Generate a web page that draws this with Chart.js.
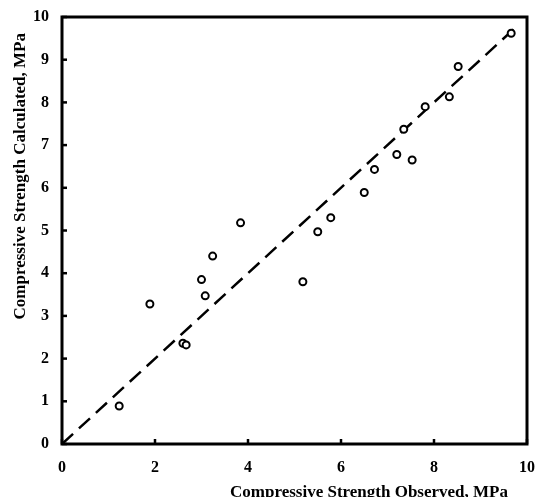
<!DOCTYPE html>
<html>
<head>
<meta charset="utf-8">
<script src="https://cdn.jsdelivr.net/npm/chart.js@4"></script>
<style>
  html, body { margin: 0; padding: 0; background: #fff; }
  #wrap { width: 542px; height: 497px; }
</style>
</head>
<body>
<div id="wrap"><canvas id="myChart" width="542" height="497"></canvas></div>
<script>
// observed vs calculated compressive strength (MPa)
const observed = [1.23, 1.89, 2.60, 2.67, 3.00, 3.08, 3.24, 3.84, 5.18, 5.50, 5.78, 6.50, 6.72, 7.20, 7.53, 7.35, 7.81, 8.33, 8.52, 9.66];
const calculated = [0.89, 3.28, 2.36, 2.32, 3.85, 3.47, 4.40, 5.18, 3.80, 4.97, 5.30, 5.89, 6.43, 6.78, 6.65, 7.37, 7.90, 8.13, 8.84, 9.62];
const lineX = [0, 9.8];
const lineY = [0, 9.8];

const xTitle = 'Compressive Strength Observed, MPa';
const yTitle = 'Compressive Strength Calculated, MPa';

const fontFam = '"Liberation Serif", "Times New Roman", serif';

// frame, inward ticks and the axis titles
const frame = {
  id: 'frame',
  afterDraw(chart) {
    const { ctx, chartArea: a, scales } = chart;
    ctx.save();
    ctx.strokeStyle = '#000';
    ctx.lineWidth = 3;
    ctx.strokeRect(a.left, a.top, a.right - a.left, a.bottom - a.top);
    ctx.lineWidth = 2.5;
    scales.x.ticks.forEach(t => {
      const px = scales.x.getPixelForValue(t.value);
      ctx.beginPath();
      ctx.moveTo(px, a.bottom);
      ctx.lineTo(px, a.bottom - 5);
      ctx.stroke();
    });
    scales.y.ticks.forEach(t => {
      const py = scales.y.getPixelForValue(t.value);
      ctx.beginPath();
      ctx.moveTo(a.left, py);
      ctx.lineTo(a.left + 5, py);
      ctx.stroke();
    });

    ctx.fillStyle = '#000';
    ctx.font = 'bold 17px ' + fontFam;
    ctx.textBaseline = 'middle';
    ctx.textAlign = 'right';
    ctx.fillText(xTitle, a.right - 19, 493);

    ctx.translate(21, a.top + 16);
    ctx.rotate(-Math.PI / 2);
    ctx.fillText(yTitle, 0, 0);
    ctx.restore();
  }
};

const ctx = document.getElementById('myChart').getContext('2d');
new Chart(ctx, {
  type: 'scatter',
  data: {
    datasets: [
      {
        label: 'Calculated',
        data: observed.map((x, i) => ({ x: x, y: calculated[i] })),
        pointStyle: 'circle',
        pointRadius: 3.5,
        pointBorderWidth: 2,
        pointBorderColor: '#000',
        pointBackgroundColor: '#fff',
        showLine: false,
        order: 1,
      },
      {
        label: 'Line',
        data: lineX.map((x, i) => ({ x: x, y: lineY[i] })),
        showLine: true,
        borderColor: '#000',
        borderWidth: 2.5,
        borderDash: [15, 8],
        pointRadius: 0,
        fill: false,
        order: 2,
      },
    ],
  },
  options: {
    responsive: false,
    animation: false,
    layout: { padding: { top: 17, right: 15, left: 0, bottom: 0 } },
    plugins: { legend: { display: false }, tooltip: { enabled: false } },
    scales: {
      x: {
        type: 'linear',
        min: 0,
        max: 10,
        afterFit: s => {
          s.height = 53;
          s.paddingLeft = 0;
          s.paddingRight = 0;
        },
        grid: { display: false, drawTicks: false },
        border: { display: false },
        ticks: {
          stepSize: 2,
          color: '#000',
          padding: 14,
          font: { family: fontFam, size: 16, weight: 'bold' },
        },
      },
      y: {
        type: 'linear',
        min: 0,
        max: 10,
        afterFit: s => {
          s.width = 62;
          s.paddingTop = 0;
          s.paddingBottom = 0;
        },
        grid: { display: false, drawTicks: false },
        border: { display: false },
        ticks: {
          stepSize: 1,
          color: '#000',
          padding: 13,
          font: { family: fontFam, size: 16, weight: 'bold' },
        },
      },
    },
  },
  plugins: [frame],
});
</script>
</body>
</html>
